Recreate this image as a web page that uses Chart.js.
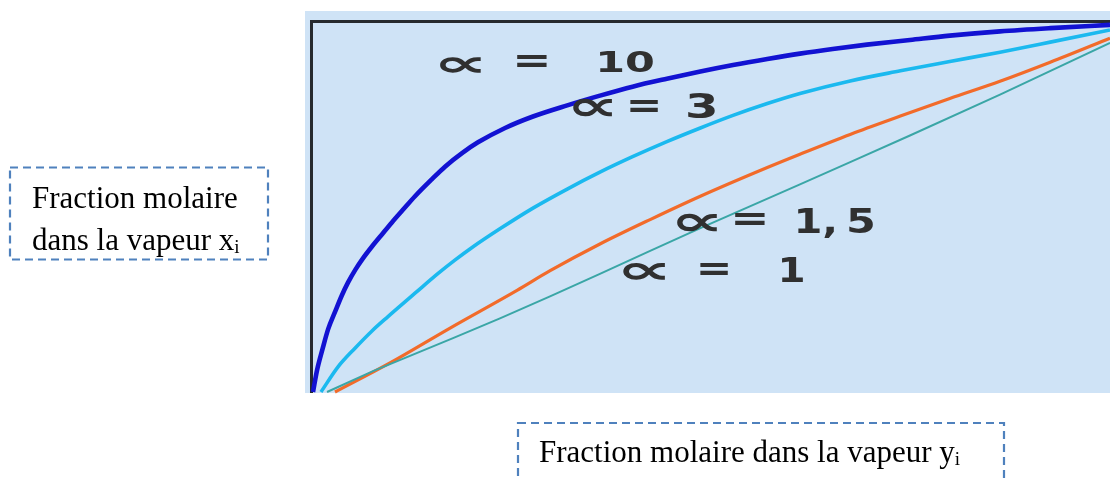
<!DOCTYPE html>
<html>
<head>
<meta charset="utf-8">
<script src="https://cdn.jsdelivr.net/npm/chart.js@4/dist/chart.umd.min.js"></script>
<style>
  html, body { margin: 0; padding: 0; background: #ffffff; }
  #wrap { position: relative; width: 1110px; height: 481px; overflow: hidden; }
  #plot { position: absolute; left: 0; top: 0; filter: blur(0.5px); }
  .frame { position: absolute; left: 0; top: 0; pointer-events: none; }
  .lbl {
    position: absolute;
    font-family: "Liberation Serif", "Times New Roman", serif;
    font-size: 31px;
    color: #000;
    white-space: nowrap;
    line-height: 42px;
  }
  .lbl sub { font-size: 19px; vertical-align: -3px; line-height: 0; }
</style>
</head>
<body>
<div id="wrap">
  <canvas id="plot" width="1110" height="481"></canvas>
  <svg class="frame" width="1110" height="481">
    <rect x="10" y="167.5" width="258" height="92" fill="none" stroke="#4f81bd" stroke-width="2.2" stroke-dasharray="8 5"/>
    <rect x="518" y="423" width="486" height="80" fill="none" stroke="#4f81bd" stroke-width="2.2" stroke-dasharray="8 5"/>
  </svg>
  <div class="lbl" style="left:32px; top:177px;">Fraction molaire<br>dans la vapeur x<sub>i</sub></div>
  <div class="lbl" style="left:539px; top:431px;">Fraction molaire dans la vapeur y<sub>i</sub></div>
</div>
<script>
// Equilibrium curves for several relative volatilities
const alphaNames = ['10', '3', '1, 5', '1'];

const x10 = [0, 0.005, 0.012, 0.019, 0.028, 0.036, 0.044, 0.053, 0.062, 0.074, 0.087, 0.099, 0.112, 0.128, 0.149, 0.166, 0.187, 0.207, 0.241, 0.276, 0.319, 0.360, 0.401, 0.444, 0.486, 0.527, 0.570, 0.611, 0.652, 0.695, 0.749, 0.799, 0.862, 0.925, 1.0];
const y10 = [0, 0.060, 0.120, 0.175, 0.225, 0.268, 0.305, 0.340, 0.370, 0.405, 0.440, 0.472, 0.505, 0.545, 0.592, 0.628, 0.665, 0.695, 0.735, 0.767, 0.798, 0.825, 0.850, 0.872, 0.892, 0.910, 0.927, 0.942, 0.955, 0.967, 0.980, 0.992, 1.004, 1.013, 1.022];

const x3 = [0.010, 0.0314, 0.0527, 0.074, 0.0941, 0.1117, 0.128, 0.157, 0.178, 0.200, 0.235, 0.276, 0.319, 0.360, 0.401, 0.444, 0.486, 0.527, 0.570, 0.611, 0.674, 0.737, 0.799, 0.862, 0.925, 1.0];
const y3 = [0, 0.070, 0.122, 0.170, 0.210, 0.244, 0.275, 0.330, 0.367, 0.403, 0.455, 0.512, 0.565, 0.612, 0.655, 0.697, 0.735, 0.770, 0.803, 0.831, 0.866, 0.894, 0.920, 0.946, 0.974, 1.008];

const x15 = [0.0276, 0.0966, 0.172, 0.256, 0.297, 0.360, 0.423, 0.486, 0.570, 0.611, 0.674, 0.737, 0.799, 0.862, 0.925, 1.0];
const y15 = [0, 0.081, 0.178, 0.283, 0.337, 0.412, 0.480, 0.545, 0.625, 0.662, 0.717, 0.768, 0.817, 0.865, 0.918, 0.985];

const x1 = [0.0176, 0.0753, 0.1757, 0.2346, 0.2974, 0.360, 0.423, 0.486, 0.611, 0.674, 0.749, 0.862, 1.0];
const y1 = [0, 0.058, 0.150, 0.205, 0.266, 0.329, 0.393, 0.456, 0.578, 0.640, 0.714, 0.828, 0.972];

const pts = (xs, ys) => xs.map((x, i) => ({ x: x, y: ys[i] }));

// Background panel and the dark frame on the left and top edges
const panel = {
  id: 'panel',
  beforeDraw(chart) {
    const { ctx, chartArea: a } = chart;
    ctx.save();
    ctx.fillStyle = '#cfe3f6';
    ctx.fillRect(a.left - 8, a.top - 11, a.right - a.left + 8, a.bottom - a.top + 12);
    ctx.restore();
  },
  beforeDatasetsDraw(chart) {
    const { ctx, chartArea: a } = chart;
    ctx.save();
    ctx.strokeStyle = '#262a2e';
    ctx.lineWidth = 3;
    ctx.beginPath();
    ctx.moveTo(a.left - 1.5, a.bottom + 1);
    ctx.lineTo(a.left - 1.5, a.top - 0.5);
    ctx.lineTo(a.right, a.top - 0.5);
    ctx.stroke();
    ctx.restore();
  }
};

// Stretch a piece of text so its ink fills a given box
function fitText(ctx, text, x1, y1, x2, y2) {
  ctx.save();
  ctx.font = 'bold 100px "DejaVu Sans"';
  ctx.textAlign = 'left';
  ctx.textBaseline = 'alphabetic';
  const m = ctx.measureText(text);
  const w = m.actualBoundingBoxLeft + m.actualBoundingBoxRight;
  const h = m.actualBoundingBoxAscent + m.actualBoundingBoxDescent;
  const sx = (x2 - x1) / w, sy = (y2 - y1) / h;
  ctx.translate(x1 + m.actualBoundingBoxLeft * sx, y1 + m.actualBoundingBoxAscent * sy);
  ctx.scale(sx, sy);
  ctx.fillStyle = '#303030';
  ctx.fillText(text, 0, 0);
  ctx.restore();
}

const curveLabels = {
  id: 'curveLabels',
  afterDatasetsDraw(chart) {
    const ctx = chart.ctx;
    // α = 10
    fitText(ctx, '\u221D', 440, 57, 481, 73);
    fitText(ctx, '=', 517, 55, 547, 67);
    fitText(ctx, alphaNames[0], 600, 50, 653, 72);
    // α = 3
    fitText(ctx, '\u221D', 573, 99, 612, 117);
    fitText(ctx, '=', 630, 100, 658, 112);
    fitText(ctx, alphaNames[1], 688, 93, 715, 118);
    // α = 1,5
    const parts = alphaNames[2].split(' ');
    fitText(ctx, '\u221D', 677, 214, 717, 232);
    fitText(ctx, '=', 735, 213, 765, 225);
    fitText(ctx, parts[0], 798, 208, 834, 238);
    fitText(ctx, parts[1], 849, 208, 873, 233);
    // α = 1
    fitText(ctx, '\u221D', 623, 263, 665, 280);
    fitText(ctx, '=', 700, 263, 728, 275);
    fitText(ctx, alphaNames[3], 782, 257, 803, 282);
  }
};

new Chart(document.getElementById('plot'), {
  type: 'scatter',
  data: {
    datasets: [
      { label: 'α = 1', data: pts(x1, y1), borderColor: '#3aa6a6', borderWidth: 2, tension: 0 },
      { label: 'α = 1,5', data: pts(x15, y15), borderColor: '#f26b2a', borderWidth: 3.2, cubicInterpolationMode: 'monotone' },
      { label: 'α = 3', data: pts(x3, y3), borderColor: '#1bb9ef', borderWidth: 3.6, cubicInterpolationMode: 'monotone' },
      { label: 'α = 10', data: pts(x10, y10), borderColor: '#1212d2', borderWidth: 4.6, cubicInterpolationMode: 'monotone' }
    ].map(d => Object.assign({ showLine: true, pointRadius: 0, fill: false, clip: 6 }, d))
  },
  options: {
    responsive: false,
    animation: false,
    devicePixelRatio: 1,
    layout: { padding: { left: 313, top: 22, right: 0, bottom: 89 } },
    scales: {
      x: { type: 'linear', min: 0, max: 1, display: false },
      y: { type: 'linear', min: 0, max: 1.03, display: false }
    },
    plugins: { legend: { display: false }, tooltip: { enabled: false } }
  },
  plugins: [panel, curveLabels]
});
</script>
</body>
</html>
